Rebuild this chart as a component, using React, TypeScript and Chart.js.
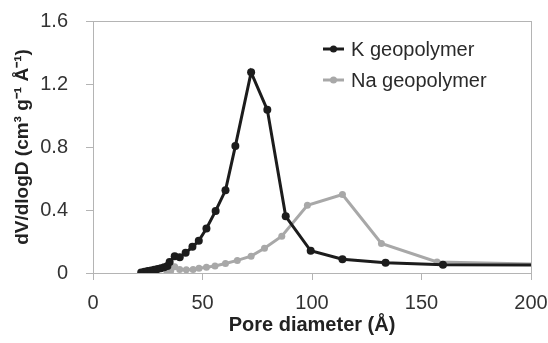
import React, { useEffect, useRef } from "react";
import { Chart, registerables } from "chart.js";

Chart.register(...registerables);

const kDiameter = [22, 23.5, 25, 26.5, 28, 29.5, 31, 32.5, 34, 35, 37.3, 39.6, 42.3, 45.4, 48.3, 51.8, 56, 60.5, 65, 72.2, 79.6, 88, 99.4, 113.9, 133.6, 159.8, 240];
const kValues = [0.003, 0.008, 0.012, 0.016, 0.02, 0.025, 0.03, 0.036, 0.045, 0.07, 0.107, 0.1, 0.128, 0.166, 0.204, 0.283, 0.394, 0.525, 0.806, 1.274, 1.036, 0.36, 0.141, 0.087, 0.065, 0.053, 0.05];

const naDiameter = [33.8, 35.5, 37.3, 39.6, 42.6, 45.7, 48.4, 51.8, 55.7, 60.5, 65.9, 72.2, 78.3, 86.2, 97.9, 113.9, 131.7, 157.1, 240];
const naValues = [0.002, 0.015, 0.04, 0.023, 0.02, 0.023, 0.03, 0.036, 0.045, 0.06, 0.08, 0.107, 0.157, 0.234, 0.43, 0.498, 0.188, 0.07, 0.046];

const seriesNames = ["K geopolymer", "Na geopolymer"];
const seriesColors = ["#1c1c1c", "#a8a8a8"];

const xTicks = [0, 50, 100, 150, 200];
const yTicks = [0, 0.4, 0.8, 1.2, 1.6];

const FONT = "'Liberation Sans', Arial, sans-serif";

const framePlugin = {
  id: "frame",
  beforeDatasetsDraw(chart: any) {
    const { ctx, chartArea: a } = chart;
    ctx.save();
    ctx.strokeStyle = "#b4b4b4";
    ctx.lineWidth = 1;
    ctx.strokeRect(a.left + 0.5, a.top + 0.5, a.right - a.left, a.bottom - a.top);
    ctx.restore();
  },
};

const legendPlugin = {
  id: "customLegend",
  afterDraw(chart: any) {
    const { ctx } = chart;
    ctx.save();
    const startX = 323;
    const rows = [49, 80];
    chart.data.datasets.forEach((ds: any, i: number) => {
      const y = rows[i];
      ctx.strokeStyle = ds.borderColor;
      ctx.lineWidth = 3;
      ctx.beginPath();
      ctx.moveTo(startX, y);
      ctx.lineTo(startX + 21, y);
      ctx.stroke();
      ctx.fillStyle = ds.pointBackgroundColor;
      ctx.beginPath();
      ctx.arc(startX + 10.5, y, 3.5, 0, Math.PI * 2);
      ctx.fill();
      ctx.fillStyle = "#2a2a2a";
      ctx.font = `20px ${FONT}`;
      ctx.textBaseline = "middle";
      ctx.textAlign = "left";
      ctx.fillText(ds.label, startX + 28, y + 1);
    });
    ctx.restore();
  },
};

export default function App() {
  const canvasRef = useRef<HTMLCanvasElement | null>(null);

  useEffect(() => {
    document.body.style.margin = "0";
    const canvas = canvasRef.current;
    if (!canvas) return;
    const toPoints = (xs: number[], ys: number[]) => xs.map((x, i) => ({ x, y: ys[i] }));
    const chart = new Chart(canvas, {
      type: "line",
      data: {
        datasets: [
          {
            label: seriesNames[0],
            data: toPoints(kDiameter, kValues),
            borderColor: seriesColors[0],
            backgroundColor: seriesColors[0],
            pointBackgroundColor: seriesColors[0],
            pointBorderColor: seriesColors[0],
            borderWidth: 3,
            pointRadius: 4,
            pointBorderWidth: 0,
            tension: 0,
          },
          {
            label: seriesNames[1],
            data: toPoints(naDiameter, naValues),
            borderColor: seriesColors[1],
            backgroundColor: seriesColors[1],
            pointBackgroundColor: seriesColors[1],
            pointBorderColor: seriesColors[1],
            borderWidth: 3,
            pointRadius: 3.5,
            pointBorderWidth: 0,
            tension: 0,
          },
        ],
      },
      options: {
        animation: false,
        responsive: false,
        maintainAspectRatio: false,
        layout: { padding: { left: 0, right: 17, top: 21, bottom: 0 } },
        plugins: {
          legend: { display: false },
          tooltip: { enabled: false },
        },
        scales: {
          x: {
            type: "linear",
            min: 0,
            max: 200,
            afterBuildTicks: (scale: any) => {
              scale.ticks = xTicks.map((v) => ({ value: v }));
            },
            afterFit: (scale: any) => {
              scale.height = 70;
              scale.paddingLeft = 0;
              scale.paddingRight = 0;
            },
            ticks: {
              font: { family: FONT, size: 20 },
              color: "#333333",
              padding: 11,
              maxRotation: 0,
            },
            grid: {
              display: true,
              drawOnChartArea: false,
              drawTicks: true,
              tickLength: 7,
              color: "#b4b4b4",
            },
            border: { display: true, color: "#b4b4b4" },
            title: {
              display: true,
              text: "Pore diameter (Å)",
              font: { family: FONT, size: 20, weight: "bold" },
              color: "#222222",
              padding: { top: 0, bottom: 6 },
            },
          },
          y: {
            type: "linear",
            min: 0,
            max: 1.6,
            afterBuildTicks: (scale: any) => {
              scale.ticks = yTicks.map((v) => ({ value: v }));
            },
            afterFit: (scale: any) => {
              scale.width = 93;
              scale.paddingTop = 0;
              scale.paddingBottom = 0;
            },
            ticks: {
              font: { family: FONT, size: 20 },
              color: "#333333",
              padding: 18,
              callback: (v: any) => String(Math.round(Number(v) * 10) / 10),
            },
            grid: {
              display: true,
              drawOnChartArea: false,
              drawTicks: true,
              tickLength: 7,
              color: "#b4b4b4",
            },
            border: { display: true, color: "#b4b4b4" },
            title: {
              display: true,
              text: "dV/dlogD (cm³ g⁻¹ Å⁻¹)",
              font: { family: FONT, size: 19, weight: "bold" },
              color: "#222222",
              padding: { top: 11, bottom: 0 },
            },
          },
        },
      },
      plugins: [framePlugin, legendPlugin],
    } as any);
    return () => chart.destroy();
  }, []);

  return (
    <div style={{ width: 548, height: 343, background: "#fff" }}>
      <canvas ref={canvasRef} width={548} height={343} style={{ display: "block" }} />
    </div>
  );
}
